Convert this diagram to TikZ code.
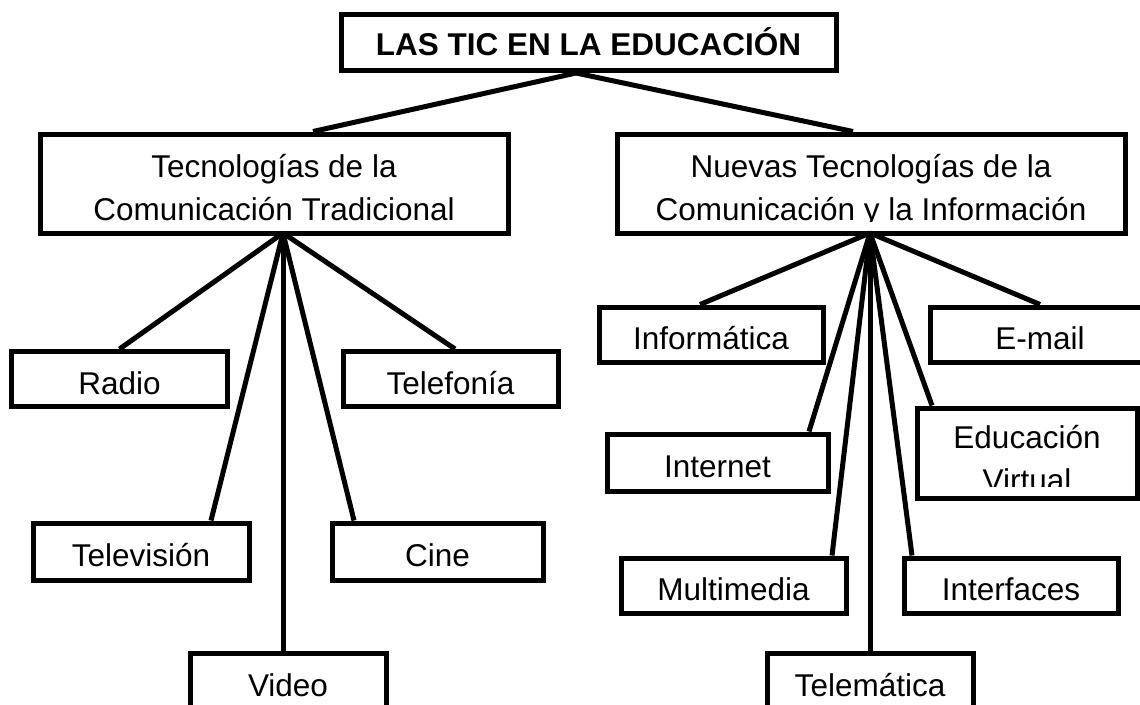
\documentclass[tikz,border=0pt]{standalone}
\usepackage{fontspec}
\setmainfont{Liberation Sans}
\begin{document}
\begin{tikzpicture}[x=1pt,y=-1pt,
  box/.style = {draw, line width=5pt, inner sep=0pt, align=center},
  txt/.style = {font=\fontsize{31.5}{43}\selectfont},
  leaf/.style = {box, txt, text height=30pt, text depth=0pt},
  link/.style = {line width=5pt}]
\useasboundingbox (0,0) rectangle (1140,704);
\node[box, font=\bfseries\fontsize{31.5}{36}\selectfont, text height=25pt, text depth=0pt, minimum width=495pt, minimum height=56pt] (tic) at (588.5,42.5) {LAS TIC EN LA EDUCACIÓN};
\node[box, txt, text height=73pt, text depth=0pt, minimum width=468pt, minimum height=99pt] (trad) at (274,183.5) {Tecnologías de la\\Comunicación Tradicional};
\node[box, minimum width=508pt, minimum height=99pt] (nuevas) at (871,183.5) {};
\begin{scope}
\clip (nuevas.north west) rectangle (1125,221);
\node[txt, align=center, text height=73pt, text depth=0pt] (nuevastxt) at (871,183.5) {Nuevas Tecnologías de la\\Comunicación y la Información};
\end{scope}
\coordinate (lhub) at (283,233); \coordinate (rhub) at (870,233);
% tradicional
\node[leaf, minimum width=216pt, minimum height=55pt] (radio) at (119.5,379) {Radio};
\node[leaf, minimum width=215pt, minimum height=55pt] (telefonia) at (450.5,379) {Telefonía};
\node[leaf, minimum width=216pt, minimum height=57pt] (tv) at (141,551.5) {Televisión};
\node[leaf, minimum width=211pt, minimum height=57pt] (cine) at (437.5,551.5) {Cine};
\node[leaf, minimum width=196pt, minimum height=56pt] (video) at (288,681) {Video};
% nuevas
\node[leaf, minimum width=224pt, minimum height=55pt] (info) at (711,334.5) {Informática};
\node[leaf, minimum width=220pt, minimum height=55pt] (email) at (1040,334.5) {E-mail};
\node[leaf, minimum width=221pt, minimum height=57pt] (internet) at (717.5,462.5) {Internet};
\node[box, minimum width=220pt, minimum height=90pt] (virtual) at (1027,453) {};
\begin{scope}
\clip (virtual.north west) rectangle (1137,486);
\node[txt, align=center, text height=76pt, text depth=0pt] (virtualtxt) at (1027,453) {Educación\\Virtual};
\end{scope}
\node[leaf, minimum width=225pt, minimum height=55pt] (multi) at (733.5,585.5) {Multimedia};
\node[leaf, minimum width=214pt, minimum height=55pt] (interf) at (1011,585.5) {Interfaces};
\node[leaf, minimum width=206pt, minimum height=56pt] (telem) at (870,681) {Telemática};
% links
\draw[link] ([xshift=-12.5pt]tic.south) -- ([xshift=39pt]trad.north);
\draw[link] ([xshift=-12.5pt]tic.south) -- ([xshift=-18pt]nuevas.north);
\draw[link] (lhub) -- (radio.north);
\draw[link] (lhub) -- ([xshift=4.5pt]telefonia.north);
\draw[link] (lhub) -- ([xshift=70pt]tv.north);
\draw[link] (lhub) -- ([xshift=-83.5pt]cine.north);
\draw[link] (lhub) -- ([xshift=-5pt]video.north);
\draw[link] (rhub) -- ([xshift=-11pt]info.north);
\draw[link] (rhub) -- (email.north);
\draw[link] (rhub) -- ([xshift=91.5pt]internet.north);
\draw[link] (rhub) -- ([xshift=-95pt]virtual.north);
\draw[link] (rhub) -- ([xshift=98.5pt]multi.north);
\draw[link] (rhub) -- ([xshift=-99pt]interf.north);
\draw[link] (rhub) -- (telem.north);
\end{tikzpicture}
\end{document}
